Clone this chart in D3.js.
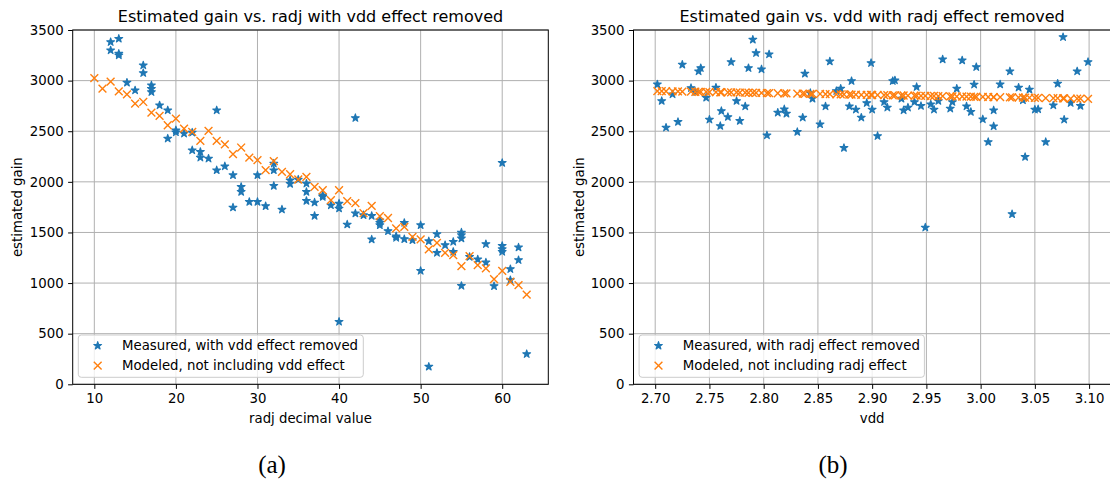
<!DOCTYPE html>
<html>
<head>
<meta charset="utf-8">
<script src="https://cdn.jsdelivr.net/npm/d3@7"></script>
<style>
  html, body { margin: 0; padding: 0; background: #fff; }
  svg { display: block; font-family: "DejaVu Sans", sans-serif; }
</style>
</head>
<body>
<svg id="fig" width="1110" height="481"></svg>
<script>
// Measured gain per radj code, vdd effect removed: [radj, gain]
const radjMeasured = [
  [12,3381],[12,3299],[13,3414],[13,3266],[13,3250],[14,2980],[15,2904],[16,3151],[16,3075],
  [17,2954],[17,2920],[17,2887],[18,2756],[19,2707],[19,2428],[20,2510],[20,2490],[21,2477],
  [22,2487],[22,2312],[23,2296],[23,2240],[24,2230],[25,2707],[25,2115],[26,2154],[27,2066],
  [27,1747],[28,1950],[28,1901],[29,1802],[30,2066],[30,1802],[31,1760],[32,2181],[32,2115],
  [32,1960],[33,1727],[34,2016],[34,1980],[35,2023],[36,1983],[36,1901],[36,1812],[37,1796],
  [37,1664],[38,1868],[38,1851],[39,1769],[40,1786],[40,1737],[40,618],[41,1579],[42,2631],
  [42,1688],[43,1671],[44,1664],[44,1431],[45,1621],[45,1595],[45,1572],[46,1513],[47,1463],
  [47,1447],[48,1595],[48,1434],[49,1424],[50,1572],[50,1121],[51,1414],[51,174],[52,1483],
  [52,1299],[53,1375],[54,1408],[54,1309],[55,1500],[55,1473],[55,1441],[55,973],[56,1259],
  [57,1234],[58,1385],[58,1204],[59,970],[60,2187],[60,1368],[60,1335],[60,1309],[61,1138],
  [61,1029],[62,1352],[62,1227],[63,299]
];

// Modeled gain per radj code, without vdd term: [radj, gain]
const radjModeled = [
  [10,3025],[11,2921],[12,2990],[13,2893],[14,2864],[15,2773],[16,2789],[17,2684],[18,2651],
  [19,2559],[20,2625],[21,2526],[22,2493],[23,2404],[24,2503],[25,2404],[26,2371],[27,2273],
  [28,2339],[29,2240],[30,2214],[31,2115],[32,2204],[33,2098],[34,2075],[35,2023],[36,2049],
  [37,1950],[38,1917],[39,1819],[40,1917],[41,1810],[42,1790],[43,1690],[44,1763],[45,1661],
  [46,1643],[47,1540],[48,1555],[49,1457],[50,1431],[51,1332],[52,1397],[53,1299],[54,1276],
  [55,1167],[56,1266],[57,1177],[58,1145],[59,1039],[60,1121],[61,1013],[62,980],[63,885]
];

// Measured gain per supply voltage, radj effect removed: [vdd, gain]
const vddMeasured = [
  [2.702,2963],[2.706,2799],[2.710,2536],[2.716,2865],[2.721,2592],[2.725,3158],[2.733,2927],
  [2.737,2888],[2.740,3092],[2.742,3124],[2.747,2832],[2.750,2615],[2.756,2931],[2.760,2552],
  [2.761,2700],[2.767,2641],[2.770,3184],[2.775,2799],[2.778,2602],[2.783,2746],[2.786,3124],
  [2.790,3405],[2.793,3273],[2.798,3112],[2.803,2460],[2.805,3260],[2.813,2684],[2.819,2717],
  [2.821,2674],[2.831,2493],[2.836,2635],[2.838,3069],[2.843,2878],[2.845,2822],[2.852,2569],
  [2.857,2746],[2.861,3190],[2.867,2897],[2.871,2921],[2.874,2335],[2.879,2746],[2.881,2996],
  [2.885,2714],[2.890,2635],[2.895,2779],[2.899,3174],[2.900,2714],[2.905,2453],[2.911,2789],
  [2.914,2734],[2.919,2996],[2.921,3003],[2.927,2822],[2.929,2707],[2.933,2734],[2.939,2789],
  [2.941,2937],[2.945,2750],[2.949,1549],[2.954,2766],[2.957,2714],[2.961,2799],[2.965,3210],
  [2.972,2724],[2.974,2789],[2.978,2921],[2.983,3200],[2.987,2746],[2.991,2691],[2.994,2961],
  [2.996,3134],[3.002,2618],[3.007,2394],[3.012,2549],[3.012,2707],[3.018,2963],[3.027,3092],
  [3.029,1681],[3.035,2931],[3.039,2806],[3.041,2246],[3.045,2911],[3.050,2714],[3.053,2717],
  [3.060,2394],[3.067,2756],[3.071,2970],[3.076,3430],[3.077,2615],[3.083,2779],[3.089,3092],
  [3.092,2750],[3.099,3184]
];

// Modeled gain per supply voltage, without radj term: [vdd, gain]
const vddModeled = [
  [2.702,2897],[2.706,2896],[2.710,2895],[2.716,2894],[2.721,2893],[2.725,2892],[2.733,2891],
  [2.737,2890],[2.740,2889],[2.742,2889],[2.747,2888],[2.750,2887],[2.756,2886],[2.760,2885],
  [2.761,2885],[2.767,2884],[2.770,2884],[2.775,2883],[2.778,2882],[2.783,2881],[2.786,2880],
  [2.790,2880],[2.793,2879],[2.798,2878],[2.803,2877],[2.805,2877],[2.813,2875],[2.819,2874],
  [2.821,2874],[2.831,2872],[2.836,2871],[2.838,2870],[2.843,2869],[2.845,2869],[2.852,2868],
  [2.857,2867],[2.861,2866],[2.867,2865],[2.871,2864],[2.874,2864],[2.879,2863],[2.881,2862],
  [2.885,2861],[2.890,2860],[2.895,2859],[2.899,2859],[2.900,2858],[2.905,2858],[2.911,2856],
  [2.914,2856],[2.919,2855],[2.921,2854],[2.927,2853],[2.929,2853],[2.933,2852],[2.939,2851],
  [2.941,2851],[2.945,2850],[2.949,2849],[2.954,2848],[2.957,2848],[2.961,2847],[2.965,2846],
  [2.972,2845],[2.974,2844],[2.978,2843],[2.983,2843],[2.987,2842],[2.991,2841],[2.994,2840],
  [2.996,2840],[3.002,2839],[3.007,2838],[3.012,2837],[3.012,2837],[3.018,2836],[3.027,2834],
  [3.029,2834],[3.035,2833],[3.039,2832],[3.041,2831],[3.045,2831],[3.050,2830],[3.053,2829],
  [3.060,2828],[3.067,2826],[3.071,2826],[3.076,2825],[3.077,2824],[3.083,2823],[3.089,2822],
  [3.092,2822],[3.099,2820]
];

const gainTicks = [0, 500, 1000, 1500, 2000, 2500, 3000, 3500];
const radjTicks = [10, 20, 30, 40, 50, 60];
const vddTicks = [2.70, 2.75, 2.80, 2.85, 2.90, 2.95, 3.00, 3.05, 3.10];

const BLUE = "#1f77b4", ORANGE = "#ff7f0e";
const FS = "13.3px";
const svg = d3.select("#fig");
const starPath = d3.symbol().type(d3.symbolStar).size(19)();

function panel(opts) {
  const { x0, x1, y0, y1, xDomain, xTicks, xFormat, measured, modeled,
          title, xLabel, caption, captionX, yLabelX, legendW, legendText } = opts;
  const x = d3.scaleLinear().domain(xDomain).range([x0, x1]);
  const y = d3.scaleLinear().domain([0, 3500]).range([y1, y0]);
  const g = svg.append("g");

  // grid
  g.append("g").selectAll("line").data(xTicks).join("line")
    .attr("x1", d => x(d)).attr("x2", d => x(d)).attr("y1", y0).attr("y2", y1)
    .attr("stroke", "#b0b0b0").attr("stroke-width", 1);
  g.append("g").selectAll("line").data(gainTicks).join("line")
    .attr("x1", x0).attr("x2", x1).attr("y1", d => y(d)).attr("y2", d => y(d))
    .attr("stroke", "#b0b0b0").attr("stroke-width", 1);

  // measured points
  g.append("g").selectAll("path").data(measured).join("path")
    .attr("d", starPath)
    .attr("transform", d => `translate(${x(d[0])},${y(d[1])})`)
    .attr("fill", BLUE).attr("stroke", BLUE).attr("stroke-width", 1.1).attr("stroke-linejoin", "round");

  // modeled points
  const c = 3.9;
  g.append("g").selectAll("path").data(modeled).join("path")
    .attr("d", `M${-c},${-c}L${c},${c}M${-c},${c}L${c},${-c}`)
    .attr("transform", d => `translate(${x(d[0])},${y(d[1])})`)
    .attr("fill", "none").attr("stroke", ORANGE).attr("stroke-width", 1.4);

  // frame
  g.append("rect").attr("x", x0).attr("y", y0).attr("width", x1 - x0).attr("height", y1 - y0)
    .attr("fill", "none").attr("stroke", "#000").attr("stroke-width", 1);

  // axes
  const xAxis = d3.axisBottom(x).tickValues(xTicks).tickFormat(xFormat).tickSize(4.6).tickPadding(4.4);
  const yAxis = d3.axisLeft(y).tickValues(gainTicks).tickFormat(d3.format("d")).tickSize(4.6).tickPadding(4.4);
  const ax = g.append("g").attr("transform", `translate(0,${y1})`).call(xAxis);
  const ay = g.append("g").attr("transform", `translate(${x0},0)`).call(yAxis);
  [ax, ay].forEach(a => {
    a.select(".domain").remove();
    a.selectAll(".tick line").attr("stroke", "#000");
    a.selectAll(".tick text").attr("fill", "#000").style("font-size", FS)
      .style("font-family", "DejaVu Sans");
  });

  // labels
  const cx = (x0 + x1) / 2;
  g.append("text").attr("x", cx).attr("y", 21.7).attr("text-anchor", "middle")
    .style("font-size", "16px").text(title);
  g.append("text").attr("x", cx).attr("y", 423).attr("text-anchor", "middle")
    .style("font-size", FS).text(xLabel);
  g.append("text").attr("transform", `translate(${yLabelX},${(y0 + y1) / 2}) rotate(-90)`)
    .attr("text-anchor", "middle").style("font-size", FS).text("estimated gain");
  g.append("text").attr("x", captionX).attr("y", 472.7).attr("text-anchor", "middle")
    .style("font-family", "'Liberation Serif', serif").style("font-size", "25px").text(caption);

  // legend
  const lx = x0 + 5.6, ly = 335;
  const lg = g.append("g");
  lg.append("rect").attr("x", lx).attr("y", ly).attr("width", legendW).attr("height", 42.3)
    .attr("rx", 3).attr("fill", "#fff").attr("fill-opacity", 0.8)
    .attr("stroke", "#cccccc").attr("stroke-width", 1);
  const mx = lx + 19.4;
  lg.append("path").attr("d", starPath).attr("transform", `translate(${mx},${ly + 10.7})`)
    .attr("fill", BLUE).attr("stroke", BLUE).attr("stroke-width", 1.1).attr("stroke-linejoin", "round");
  lg.append("path").attr("d", `M${-c},${-c}L${c},${c}M${-c},${c}L${c},${-c}`)
    .attr("transform", `translate(${mx},${ly + 30.7})`)
    .attr("fill", "none").attr("stroke", ORANGE).attr("stroke-width", 1.4);
  lg.selectAll("text.lt").data(legendText).join("text").attr("class", "lt")
    .attr("x", lx + 43.7).attr("y", (d, i) => ly + 15.3 + i * 20)
    .style("font-size", FS).text(d => d);
}

panel({
  x0: 72.7, x1: 548.3, y0: 30, y1: 384.3,
  xDomain: [7.35, 65.65], xTicks: radjTicks, xFormat: d3.format("d"),
  measured: radjMeasured, modeled: radjModeled,
  title: "Estimated gain vs. radj with vdd effect removed",
  xLabel: "radj decimal value", caption: "(a)", captionX: 272, yLabelX: 21.5,
  legendW: 285,
  legendText: ["Measured, with vdd effect removed", "Modeled, not including vdd effect"]
});

panel({
  x0: 633.5, x1: 1110.8, y0: 30, y1: 384.3,
  xDomain: [2.68, 3.12], xTicks: vddTicks, xFormat: d3.format(".2f"),
  measured: vddMeasured, modeled: vddModeled,
  title: "Estimated gain vs. vdd with radj effect removed",
  xLabel: "vdd", caption: "(b)", captionX: 833, yLabelX: 583.5,
  legendW: 285.3,
  legendText: ["Measured, with radj effect removed", "Modeled, not including radj effect"]
});
</script>
</body>
</html>
